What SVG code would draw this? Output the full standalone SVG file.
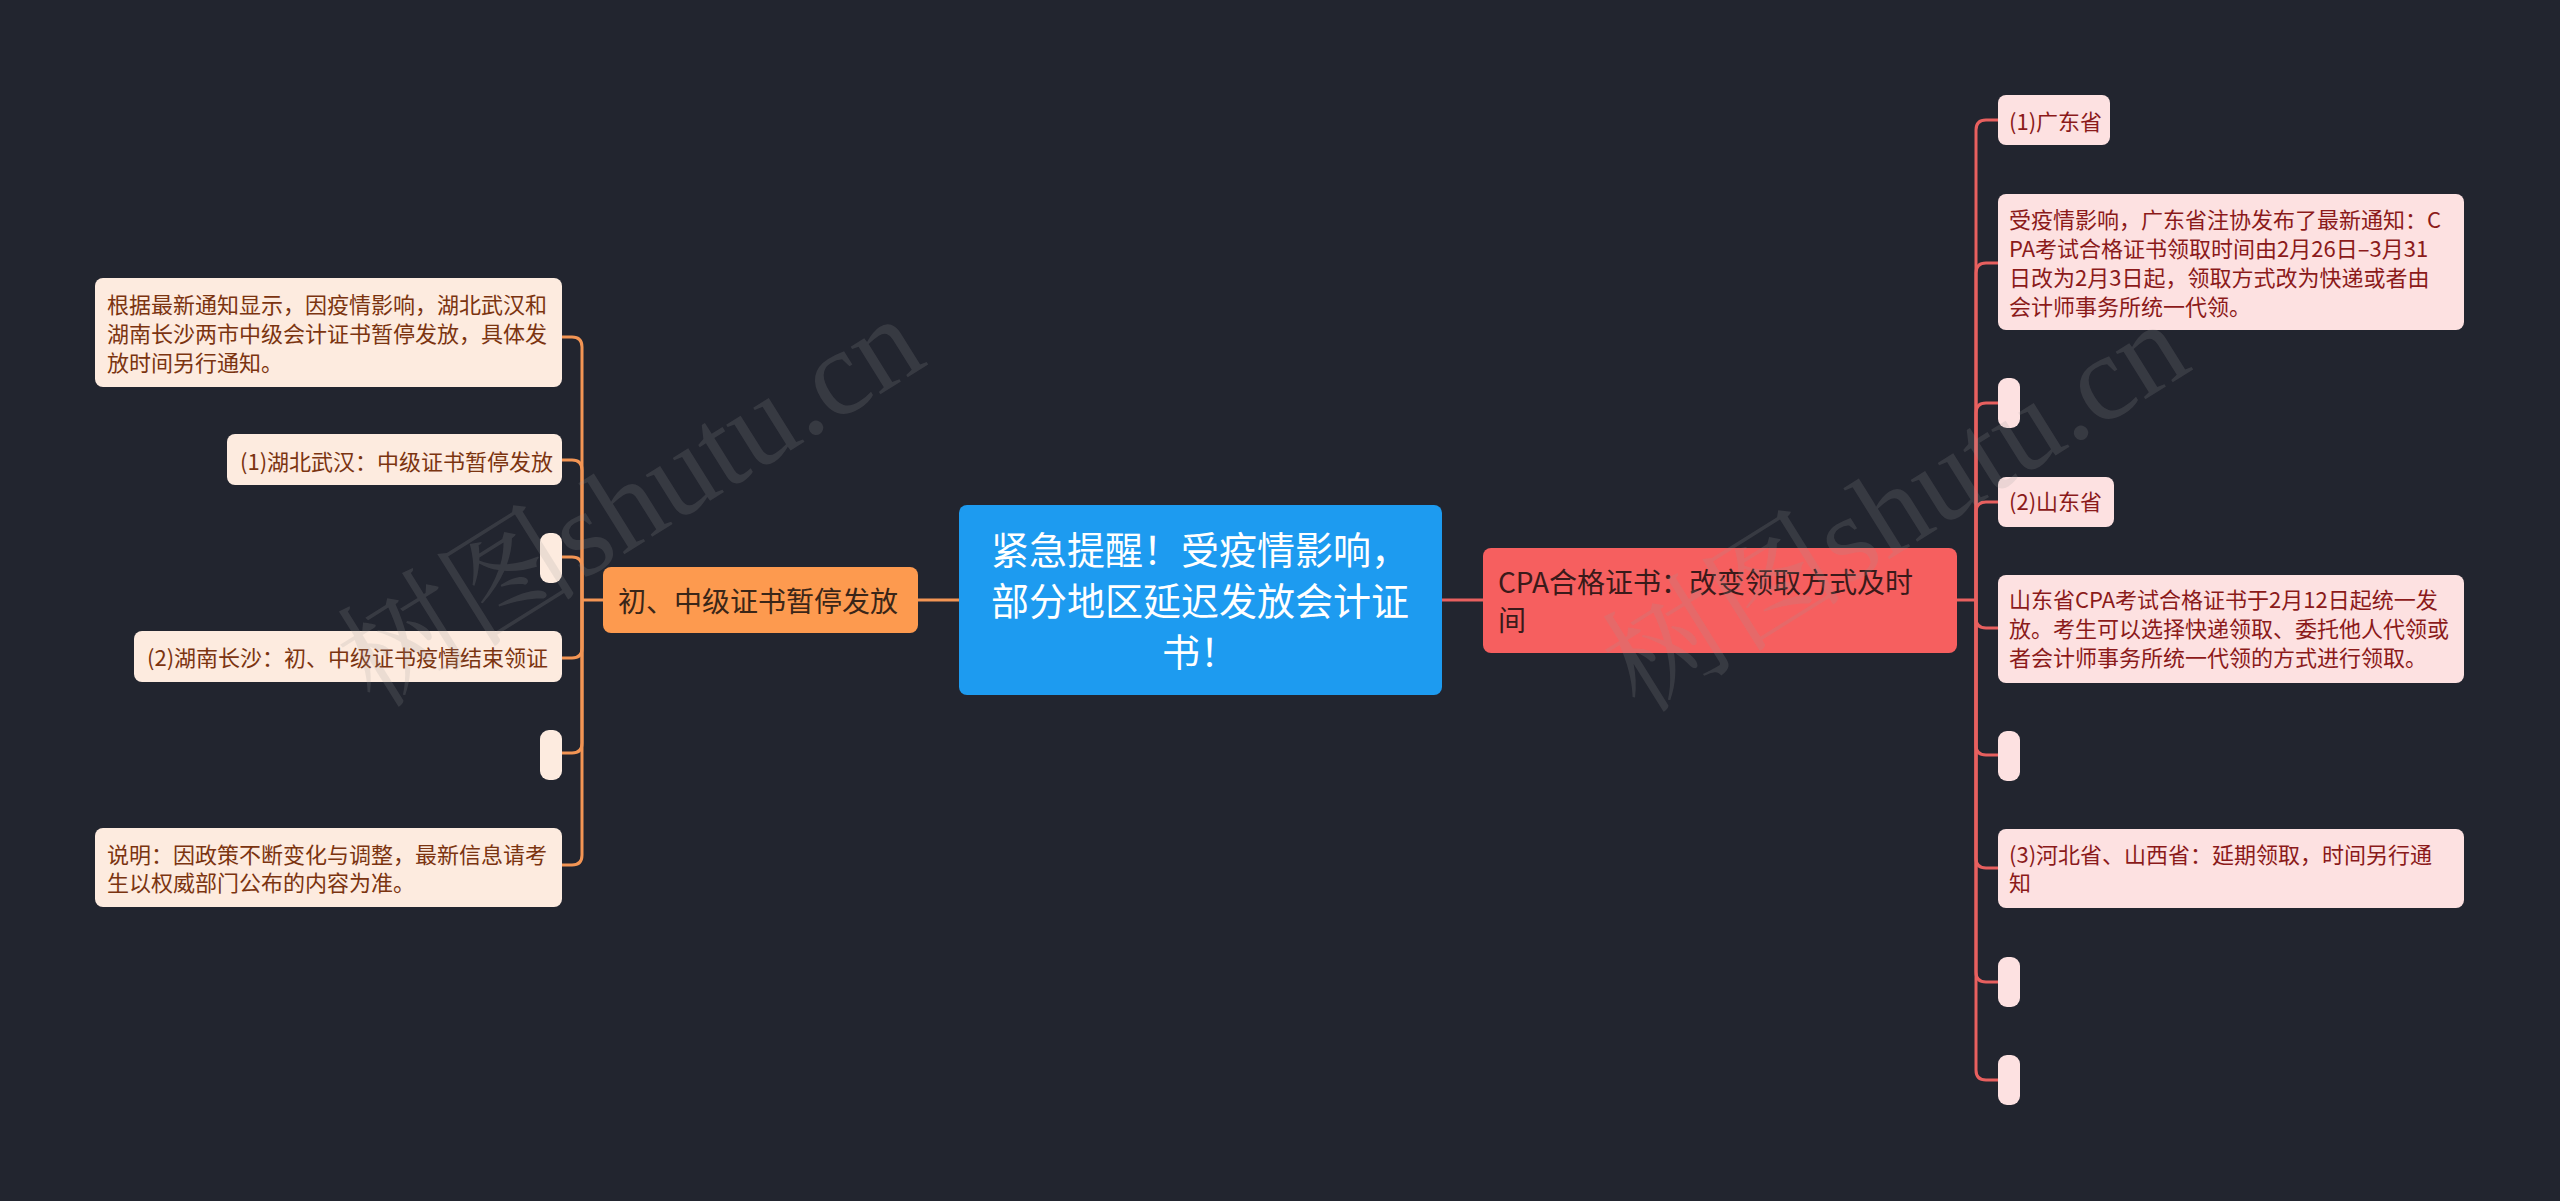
<svg xmlns="http://www.w3.org/2000/svg" width="2560" height="1201" viewBox="0 0 2560 1201">
<style>
text{font-family:"Noto Sans CJK SC","Noto Sans",sans-serif;}
.lc{fill:#fdebdf;}
.rc{fill:#fde1e1;}
.lt{fill:#7b3410;font-size:22px;}
.rt{fill:#8b1a1a;font-size:22px;}
.lk{fill:none;stroke:#f39554;stroke-width:3;}
.rk{fill:none;stroke:#e8605f;stroke-width:3;}
.wm{font-family:"Liberation Serif","Noto Serif CJK SC","Noto Sans CJK SC",serif;font-size:122px;fill:#9a9a9a;fill-opacity:0.18;}
</style>
<rect x="0" y="0" width="2560" height="1201" fill="#22252f"/>
<g id="connectors">
<path class="lk" d="M918 600 H959"/>
<path class="rk" d="M1442 600 H1483"/>
<path class="lk" d="M603 600 H582"/>
<path class="lk" d="M562 337 H572 Q582 337 582 347 V600"/>
<path class="lk" d="M562 460 H572 Q582 460 582 470 V600"/>
<path class="lk" d="M562 557 H572 Q582 557 582 567 V600"/>
<path class="lk" d="M562 658 H572 Q582 658 582 648 V600"/>
<path class="lk" d="M562 753 H572 Q582 753 582 743 V600"/>
<path class="lk" d="M562 865 H572 Q582 865 582 855 V600"/>
<path class="rk" d="M1957 600 H1976"/>
<path class="rk" d="M1998 120 H1986 Q1976 120 1976 130 V600"/>
<path class="rk" d="M1998 263 H1986 Q1976 263 1976 273 V600"/>
<path class="rk" d="M1998 403 H1986 Q1976 403 1976 413 V600"/>
<path class="rk" d="M1998 502 H1986 Q1976 502 1976 512 V600"/>
<path class="rk" d="M1998 628 H1986 Q1976 628 1976 618 V600"/>
<path class="rk" d="M1998 755 H1986 Q1976 755 1976 745 V600"/>
<path class="rk" d="M1998 868 H1986 Q1976 868 1976 858 V600"/>
<path class="rk" d="M1998 982 H1986 Q1976 982 1976 972 V600"/>
<path class="rk" d="M1998 1080 H1986 Q1976 1080 1976 1070 V600"/>
</g>
<g id="center">
<rect x="959" y="505" width="483" height="190" rx="8" fill="#1d9bf0"/>
<text x="1200" y="564" font-size="38" fill="#ffffff" text-anchor="middle">紧急提醒！受疫情影响，</text>
<text x="1200" y="615" font-size="38" fill="#ffffff" text-anchor="middle">部分地区延迟发放会计证</text>
<text x="1200" y="666" font-size="38" fill="#ffffff" text-anchor="middle">书！</text>
</g>
<g id="left-main">
<rect x="603" y="567" width="315" height="66" rx="8" fill="#fd9a4f"/>
<text x="618" y="612" font-size="28" fill="#3a2618">初、中级证书暂停发放</text>
</g>
<g id="right-main">
<rect x="1483" y="548" width="474" height="105" rx="8" fill="#f65f5f"/>
<text x="1498" y="593" font-size="28" fill="#3a1a1a">CPA合格证书：改变领取方式及时</text>
<text x="1498" y="631" font-size="28" fill="#3a1a1a">间</text>
</g>
<g id="l1">
<rect class="lc" x="95" y="278" width="467" height="109" rx="8"/>
<text class="lt" x="107" y="313">根据最新通知显示，因疫情影响，湖北武汉和</text>
<text class="lt" x="107" y="342">湖南长沙两市中级会计证书暂停发放，具体发</text>
<text class="lt" x="107" y="371">放时间另行通知。</text>
</g>
<g id="l2">
<rect class="lc" x="227" y="434" width="335" height="51" rx="8"/>
<text class="lt" x="240" y="470">(1)湖北武汉：中级证书暂停发放</text>
</g>
<g id="l3"><rect class="lc" x="540" y="533" width="22" height="50" rx="9"/></g>
<g id="l4">
<rect class="lc" x="134" y="631" width="428" height="51" rx="8"/>
<text class="lt" x="147" y="666">(2)湖南长沙：初、中级证书疫情结束领证</text>
</g>
<g id="l5"><rect class="lc" x="540" y="730" width="22" height="50" rx="9"/></g>
<g id="l6">
<rect class="lc" x="95" y="828" width="467" height="79" rx="8"/>
<text class="lt" x="107" y="863">说明：因政策不断变化与调整，最新信息请考</text>
<text class="lt" x="107" y="891">生以权威部门公布的内容为准。</text>
</g>
<g id="r1">
<rect class="rc" x="1998" y="95" width="112" height="50" rx="8"/>
<text class="rt" x="2009" y="130">(1)广东省</text>
</g>
<g id="r2">
<rect class="rc" x="1998" y="194" width="466" height="136" rx="8"/>
<text class="rt" x="2009" y="228">受疫情影响，广东省注协发布了最新通知：C</text>
<text class="rt" x="2009" y="257">PA考试合格证书领取时间由2月26日–3月31</text>
<text class="rt" x="2009" y="286">日改为2月3日起，领取方式改为快递或者由</text>
<text class="rt" x="2009" y="315">会计师事务所统一代领。</text>
</g>
<g id="r3"><rect class="rc" x="1998" y="378" width="22" height="50" rx="9"/></g>
<g id="r4">
<rect class="rc" x="1998" y="477" width="116" height="50" rx="8"/>
<text class="rt" x="2009" y="510">(2)山东省</text>
</g>
<g id="r5">
<rect class="rc" x="1998" y="575" width="466" height="108" rx="8"/>
<text class="rt" x="2009" y="608">山东省CPA考试合格证书于2月12日起统一发</text>
<text class="rt" x="2009" y="637">放。考生可以选择快递领取、委托他人代领或</text>
<text class="rt" x="2009" y="666">者会计师事务所统一代领的方式进行领取。</text>
</g>
<g id="r6"><rect class="rc" x="1998" y="731" width="22" height="50" rx="9"/></g>
<g id="r7">
<rect class="rc" x="1998" y="829" width="466" height="79" rx="8"/>
<text class="rt" x="2009" y="863">(3)河北省、山西省：延期领取，时间另行通</text>
<text class="rt" x="2009" y="891">知</text>
</g>
<g id="r8"><rect class="rc" x="1998" y="957" width="22" height="50" rx="9"/></g>
<g id="r9"><rect class="rc" x="1998" y="1055" width="22" height="50" rx="9"/></g>
<g id="watermark">
<text class="wm" x="375" y="710" transform="rotate(-32 375 710)">树图shutu.cn</text>
<text class="wm" x="1640" y="715" transform="rotate(-32 1640 715)">树图shutu.cn</text>
</g>
</svg>
